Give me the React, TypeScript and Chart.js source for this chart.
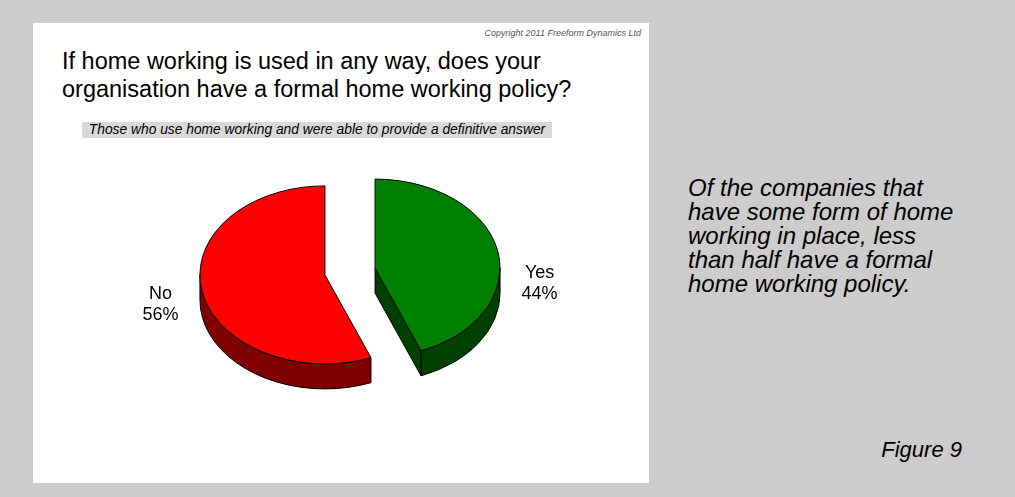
import React, { useEffect, useRef } from "react";
import { Chart, registerables } from "chart.js";

Chart.register(...registerables);

// ---- data ----
const categories = ["Yes", "No"];
const values = [44, 56];

// ---- styles ----
const topColors = ["#008000", "#ff0000"];
const sideColors = ["#004000", "#800000"];

// ---- text ----
const titleLines = [
  "If home working is used in any way, does your",
  "organisation have a formal home working policy?",
];
const subtitle =
  "Those who use home working and were able to provide a definitive answer";
const copyright = "Copyright 2011 Freeform Dynamics Ltd";
const noteLines = [
  "Of the companies that",
  "have some form of home",
  "working in place, less",
  "than half have a formal",
  "home working policy.",
];
const figureLabel = "Figure 9";

// ---- 3D look ----
const TILT = 0.712;
const DEPTH = 25;
const EXPLODE = 25.5;
const LABEL_RX = 193;
const LABEL_RY = 56;
const LABEL_DROP = 23;
const LABEL_LINE = 21;
const FONT = "'Liberation Sans', Arial, Helvetica, sans-serif";

const pie3d = {
  id: "pie3d",
  beforeDatasetsDraw(chart: any) {
    const ctx: CanvasRenderingContext2D = chart.ctx;
    const meta = chart.getDatasetMeta(0);
    const arcs = meta.data as any[];
    const total = values.reduce((a, b) => a + b, 0);
    ctx.save();
    ctx.lineWidth = 1;
    ctx.strokeStyle = "#000000";
    ctx.lineJoin = "round";
    const geo = arcs.map((arc, i) => {
      const p = arc.getProps(["x", "y", "startAngle", "endAngle", "outerRadius"], true);
      const mid = (p.startAngle + p.endAngle) / 2;
      return {
        i,
        x: p.x,
        y: p.y,
        mid,
        s: p.startAngle,
        e: p.endAngle,
        r: p.outerRadius,
        ry: p.outerRadius * TILT,
        cx: p.x + EXPLODE * Math.cos(mid),
        cy: p.y + EXPLODE * TILT * Math.sin(mid),
      };
    });

    // sides
    geo.forEach((g) => {
      ctx.fillStyle = sideColors[g.i % sideColors.length];
      const faces: [number, number][] = [
        [g.s, g.s - Math.PI / 2],
        [g.e, g.e + Math.PI / 2],
      ];
      faces.forEach(([ang, normal]) => {
        if (Math.sin(normal) > 1e-6) {
          const px = g.cx + g.r * Math.cos(ang);
          const py = g.cy + g.ry * Math.sin(ang);
          ctx.beginPath();
          ctx.moveTo(g.cx, g.cy);
          ctx.lineTo(px, py);
          ctx.lineTo(px, py + DEPTH);
          ctx.lineTo(g.cx, g.cy + DEPTH);
          ctx.closePath();
          ctx.fill();
          ctx.stroke();
        }
      });
      const fronts: [number, number][] = [
        [-2 * Math.PI, -Math.PI],
        [0, Math.PI],
        [2 * Math.PI, 3 * Math.PI],
      ];
      fronts.forEach(([a, b]) => {
        const lo = Math.max(g.s, a);
        const hi = Math.min(g.e, b);
        if (hi > lo) {
          ctx.beginPath();
          ctx.ellipse(g.cx, g.cy, g.r, g.ry, 0, lo, hi, false);
          ctx.ellipse(g.cx, g.cy + DEPTH, g.r, g.ry, 0, hi, lo, true);
          ctx.closePath();
          ctx.fill();
          ctx.stroke();
        }
      });
    });

    // top faces
    geo.forEach((g) => {
      ctx.fillStyle = topColors[g.i % topColors.length];
      ctx.beginPath();
      ctx.moveTo(g.cx, g.cy);
      ctx.ellipse(g.cx, g.cy, g.r, g.ry, 0, g.s, g.e, false);
      ctx.closePath();
      ctx.fill();
      ctx.stroke();
    });

    // labels
    ctx.fillStyle = "#000000";
    ctx.font = `18px ${FONT}`;
    ctx.textAlign = "center";
    ctx.textBaseline = "middle";
    geo.forEach((g) => {
      const lx = g.x + LABEL_RX * Math.cos(g.mid);
      const ly = g.y + LABEL_DROP + LABEL_RY * Math.sin(g.mid);
      const pct = Math.round((values[g.i] / total) * 100) + "%";
      ctx.fillText(categories[g.i], lx, ly - LABEL_LINE / 2);
      ctx.fillText(pct, lx, ly + LABEL_LINE / 2);
    });

    ctx.restore();
    return false;
  },
};

export default function App() {
  const canvasRef = useRef<HTMLCanvasElement | null>(null);

  useEffect(() => {
    const canvas = canvasRef.current;
    if (!canvas) return;
    const chart = new Chart(canvas, {
      type: "pie",
      data: {
        labels: categories,
        datasets: [
          {
            data: values,
            backgroundColor: topColors,
            borderWidth: 0,
            radius: 125,
          } as any,
        ],
      },
      options: {
        animation: false,
        responsive: false,
        maintainAspectRatio: false,
        events: [],
        layout: { padding: 0 },
        plugins: {
          legend: { display: false },
          tooltip: { enabled: false },
          title: { display: false },
        },
      },
      plugins: [pie3d as any],
    });
    return () => chart.destroy();
  }, []);

  return (
    <div
      style={{
        position: "absolute",
        left: 0,
        top: 0,
        width: 1015,
        height: 497,
        background: "#cccccc",
        overflow: "hidden",
        fontFamily: FONT,
        color: "#000",
      }}
    >
      <div
        style={{
          position: "absolute",
          left: 33,
          top: 23,
          width: 616,
          height: 460,
          background: "#ffffff",
        }}
      />
      <div
        style={{
          position: "absolute",
          left: 0,
          width: 641,
          top: 28,
          textAlign: "right",
          fontSize: 9,
          lineHeight: "10px",
          fontStyle: "italic",
          color: "#555555",
          whiteSpace: "pre",
        }}
      >
        {copyright}
      </div>
      <div
        style={{
          position: "absolute",
          left: 62,
          top: 47,
          fontSize: 23.5,
          lineHeight: "28px",
          whiteSpace: "pre",
        }}
      >
        {titleLines.map((l, i) => (
          <div key={i}>{l}</div>
        ))}
      </div>
      <div
        style={{
          position: "absolute",
          left: 82,
          top: 122,
          width: 470,
          height: 16,
          background: "#d9d9d9",
          fontSize: 13.8,
          lineHeight: "16px",
          fontStyle: "italic",
          textAlign: "center",
          whiteSpace: "pre",
        }}
      >
        {subtitle}
      </div>
      <canvas
        ref={canvasRef}
        width={500}
        height={261}
        style={{
          position: "absolute",
          left: 100,
          top: 141,
          width: 500,
          height: 261,
        }}
      />
      <div
        style={{
          position: "absolute",
          left: 688,
          top: 176,
          fontSize: 24,
          lineHeight: "24px",
          fontStyle: "italic",
          whiteSpace: "pre",
        }}
      >
        {noteLines.map((l, i) => (
          <div key={i}>{l}</div>
        ))}
      </div>
      <div
        style={{
          position: "absolute",
          left: 0,
          width: 962,
          top: 438,
          textAlign: "right",
          fontSize: 22,
          lineHeight: "24px",
          fontStyle: "italic",
          whiteSpace: "pre",
        }}
      >
        {figureLabel}
      </div>
    </div>
  );
}
